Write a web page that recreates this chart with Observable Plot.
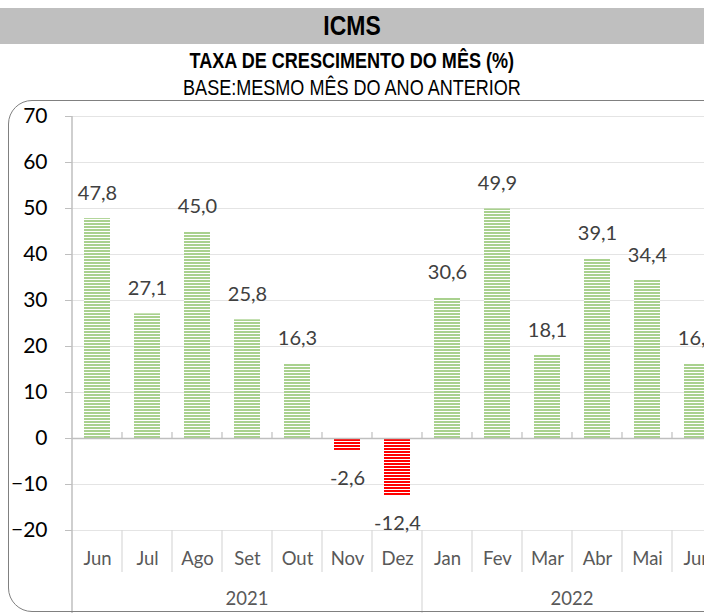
<!DOCTYPE html>
<html><head><meta charset="utf-8">
<script src="https://cdn.jsdelivr.net/npm/d3@7"></script>
<script src="https://cdn.jsdelivr.net/npm/@observablehq/plot@0.6"></script>
<style>
html,body{margin:0;padding:0;background:#fff;overflow:hidden}
#wrap{position:relative;width:704px;height:613px;overflow:hidden;background:#fff}
.t{position:absolute;left:0;width:704px;text-align:center;font-family:"Liberation Sans",Arial,sans-serif;color:#000;white-space:nowrap}
.t span{display:inline-block;transform:scaleX(0.82);transform-origin:center}
#bar{top:8px;height:36px;line-height:36px;background:#bfbfbf;font-weight:bold;font-size:28px}
#s1{top:49px;height:24px;line-height:24px;font-weight:bold;font-size:22px}
#s2{top:76px;height:24px;line-height:24px;font-size:22px}
#frame{position:absolute;left:8px;top:100px;width:780px;height:512px;box-sizing:border-box;border:1.5px solid #808080;border-radius:24px;pointer-events:none;z-index:2}
#chart{position:absolute;left:0;top:100px}
</style></head>
<body><div id="wrap">
<div class="t" id="bar"><span>ICMS</span></div>
<div class="t" id="s1"><span>TAXA DE CRESCIMENTO DO MÊS (%)</span></div>
<div class="t" id="s2"><span>BASE:MESMO MÊS DO ANO ANTERIOR</span></div>
<svg width="0" height="0" style="position:absolute"><defs>
<pattern id="pg" patternUnits="userSpaceOnUse" width="8" height="3"><rect width="8" height="3" fill="#fff"/><rect width="8" height="2" fill="#a9d18e"/></pattern>
<pattern id="pr" patternUnits="userSpaceOnUse" width="8" height="3"><rect width="8" height="3" fill="#fff"/><rect width="8" height="2" fill="#ff0000"/></pattern>
</defs></svg>
<div id="chart"></div><div id="frame"></div>
</div>
<script>
const months = ["Jun","Jul","Ago","Set","Out","Nov","Dez","Jan","Fev","Mar","Abr","Mai","Jun"];
const yearOf = ["2021","2021","2021","2021","2021","2021","2021","2022","2022","2022","2022","2022","2022"];
const values = [47.8,27.1,45.0,25.8,16.3,-2.6,-12.4,30.6,49.9,18.1,39.1,34.4,16.2];
const yTicks = [-20,-10,0,10,20,30,40,50,60,70];
const yearLabels = ["2021","2022"];

const keys = months.map((m,i) => yearOf[i] + "-" + m);
const data = keys.map((k,i) => ({key:k, month:months[i], year:yearOf[i], value:values[i]}));
const fmt = v => v.toFixed(1).replace(".", ",");
const PI = 0.48, PO = 0.24;
const GRAY = "#bfbfbf", SEP = "#d9d9d9";

function categoryAxis(index, scales, values, dims) {
  const sx = scales.x, sy = scales.y;
  const step = sx(keys[1]) - sx(keys[0]);
  const bw = step * (1 - PI);
  const cx = k => sx(k) + bw / 2;
  const yb = sy(-20), y0 = sy(0), yTop = sy(70);
  const g = d3.create("svg:g");
  const line = (x1,y1,x2,y2,c,w) => g.append("line").attr("x1",x1).attr("y1",y1).attr("x2",x2).attr("y2",y2).attr("stroke",c).attr("stroke-width",w);
  keys.forEach((k,i) => {
    const x = cx(k) - step/2;
    const yearStart = i === 0 || yearOf[i] !== yearOf[i-1];
    if (i === 0) line(x, yTop, x, dims.height, GRAY, 1.5);
    else line(x, yb, x, yearStart ? dims.height : yb + 42, SEP, 1.2);
    if (i > 0) line(x, y0 - 6, x, y0, GRAY, 1.2);
  });
  yearLabels.forEach(y => {
    const ks = keys.filter((k,i) => yearOf[i] === y);
    const xm = (cx(ks[0]) + cx(ks[ks.length-1])) / 2;
    g.append("text").attr("x", xm).attr("y", yb + 70).attr("text-anchor","middle")
      .attr("dominant-baseline","middle").attr("fill","#595959").attr("font-size",18.5).text(y);
  });
  return g.node();
}

const plot = Plot.plot({
  width: 740, height: 513,
  marginLeft: 72, marginRight: 18, marginTop: 16, marginBottom: 83,
  style: {fontFamily: "Lato, 'Open Sans', sans-serif", background: "transparent", maxWidth: "none", overflow: "visible"},
  x: {domain: keys, paddingInner: PI, paddingOuter: PO, axis: null},
  y: {domain: [-20, 70], label: null, axis: null},
  marks: [
    Plot.gridY(yTicks, {stroke: "#e4e4e4", strokeOpacity: 1, strokeWidth: 1.2}),
    Plot.barY(data.filter(d => d.value >= 0), {x: "key", y: "value", fill: "url(#pg)"}),
    Plot.barY(data.filter(d => d.value < 0), {x: "key", y: "value", fill: "url(#pr)"}),
    Plot.ruleY([0], {stroke: GRAY, strokeWidth: 1.5}),
    Plot.axisY(yTicks, {tickSize: 7, tickPadding: 18, fontSize: 21, stroke: GRAY, fill: "#000", label: null}),
    Plot.text(data.filter(d => d.value >= 0), {x: "key", y: "value", text: d => fmt(d.value), dy: -25, fontSize: 20, fill: "#404040"}),
    Plot.text(data.filter(d => d.value < 0), {x: "key", y: "value", text: d => fmt(d.value), dy: 28, fontSize: 20, fill: "#404040"}),
    Plot.text(data, {x: "key", text: "month", frameAnchor: "bottom", lineAnchor: "middle", dy: 29, fontSize: 18.5, fill: "#595959"}),
    categoryAxis
  ]
});
document.getElementById("chart").appendChild(plot);
</script>
</body></html>
